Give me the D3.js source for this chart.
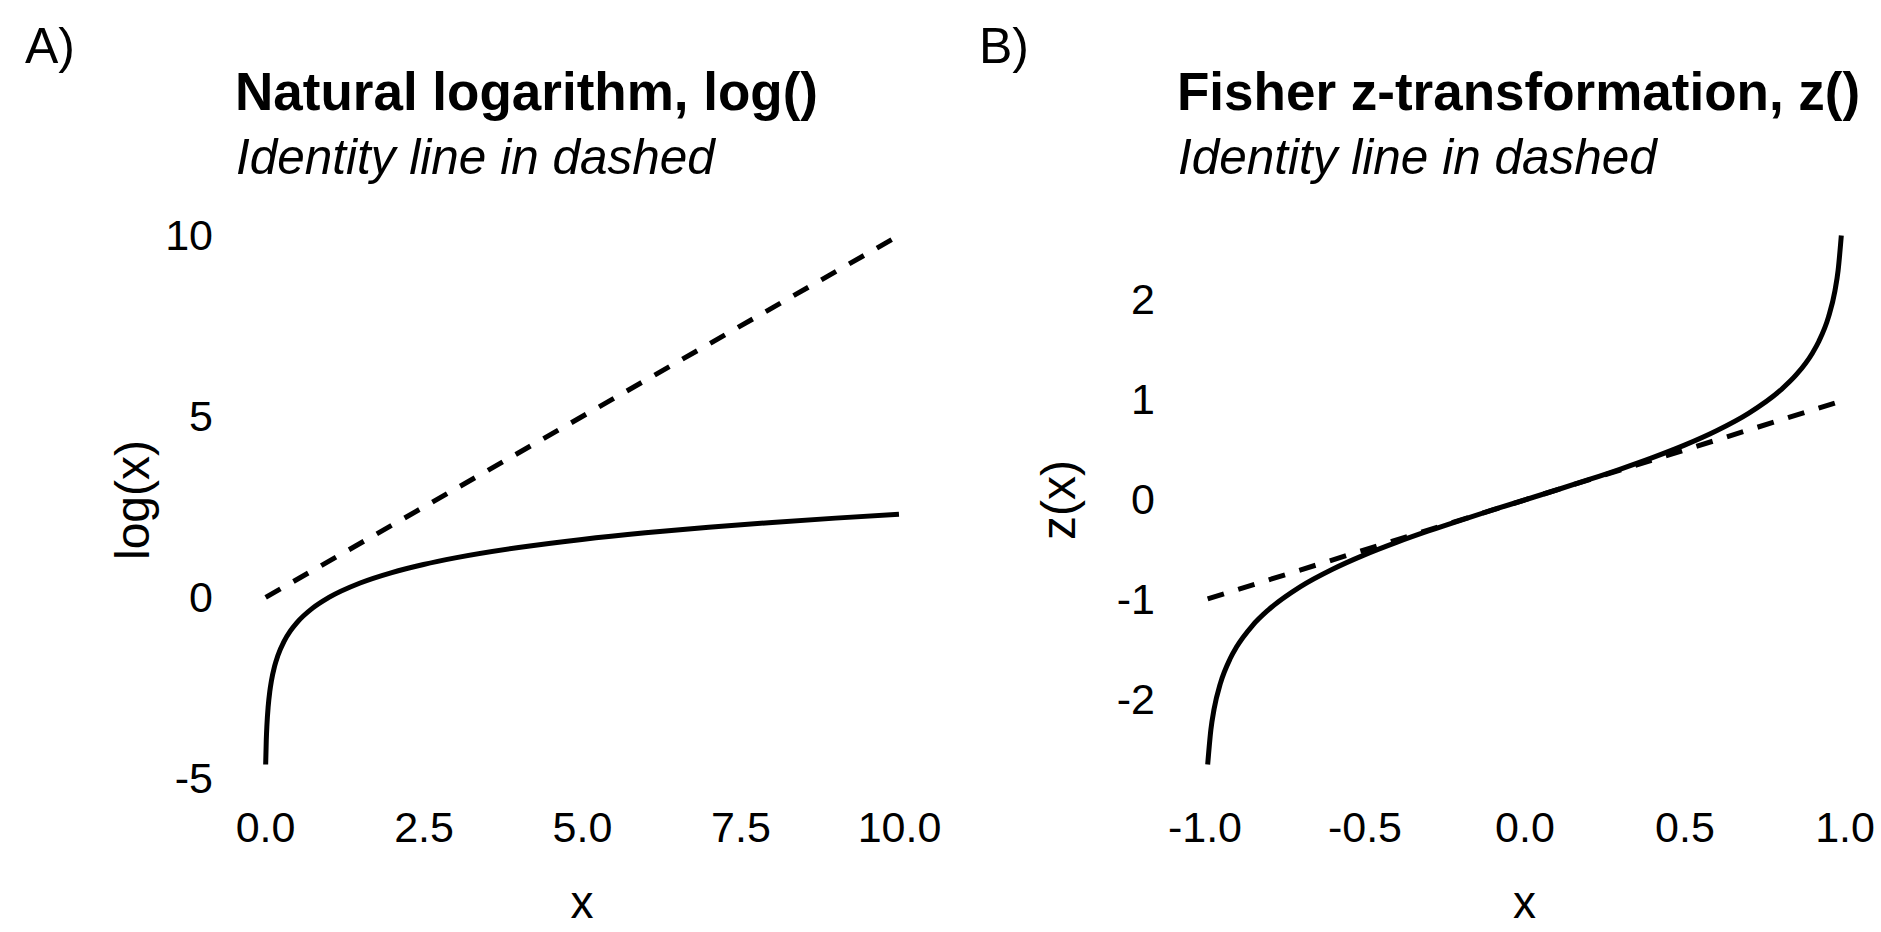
<!DOCTYPE html>
<html>
<head>
<meta charset="utf-8">
<script src="https://cdn.jsdelivr.net/npm/d3@7"></script>
<style>
  html, body { margin: 0; padding: 0; background: #ffffff; }
  svg { display: block; }
  text { font-family: "Liberation Sans", Arial, Helvetica, sans-serif; fill: #000; }
</style>
</head>
<body>
<svg id="chart" width="1881" height="932"></svg>
<script>
// ---------- Data ----------
// Panel A: natural logarithm
const logX = [0.01, 0.02, 0.03, 0.05, 0.075, 0.1, 0.15, 0.2, 0.3, 0.4, 0.5, 0.75, 1, 1.5, 2, 2.5, 3, 4, 5, 6, 7, 8, 9, 10];
const logY = [-4.605, -3.912, -3.507, -2.996, -2.590, -2.303, -1.897, -1.609, -1.204, -0.916, -0.693, -0.288, 0, 0.405, 0.693, 0.916, 1.099, 1.386, 1.609, 1.792, 1.946, 2.079, 2.197, 2.303];
const logIdentX = [0.01, 10];
const logIdentY = [0.01, 10];
const logXTicks = [0, 2.5, 5, 7.5, 10];
const logXTickLabels = ["0.0", "2.5", "5.0", "7.5", "10.0"];
const logYTicks = [-5, 0, 5, 10];
const logYTickLabels = ["-5", "0", "5", "10"];

// Panel B: Fisher z-transformation
const fzX = [-0.99, -0.98, -0.97, -0.95, -0.92, -0.9, -0.85, -0.8, -0.7, -0.6, -0.5, -0.4, -0.3, -0.2, -0.1, 0, 0.1, 0.2, 0.3, 0.4, 0.5, 0.6, 0.7, 0.8, 0.85, 0.9, 0.92, 0.95, 0.97, 0.98, 0.99];
const fzY = [-2.647, -2.298, -2.092, -1.832, -1.589, -1.472, -1.256, -1.099, -0.867, -0.693, -0.549, -0.424, -0.310, -0.203, -0.100, 0, 0.100, 0.203, 0.310, 0.424, 0.549, 0.693, 0.867, 1.099, 1.256, 1.472, 1.589, 1.832, 2.092, 2.298, 2.647];
const fzIdentX = [-0.99, 0.99];
const fzIdentY = [-0.99, 0.99];
const fzXTicks = [-1, -0.5, 0, 0.5, 1];
const fzXTickLabels = ["-1.0", "-0.5", "0.0", "0.5", "1.0"];
const fzYTicks = [-2, -1, 0, 1, 2];
const fzYTickLabels = ["-2", "-1", "0", "1", "2"];

const panels = [
  { tag: "A)", title: "Natural logarithm, log()", subtitle: "Identity line in dashed",
    ylab: "log(x)", xlab: "x",
    x: logX, y: logY, ix: logIdentX, iy: logIdentY,
    xt: logXTicks, xtl: logXTickLabels, yt: logYTicks, ytl: logYTickLabels,
    xdom: [-0.4895, 10.4895], ydom: [-5.3355, 10.7303],
    left: 234, right: 930, tagX: 25, ylabX: 132 },
  { tag: "B)", title: "Fisher z-transformation, z()", subtitle: "Identity line in dashed",
    ylab: "z(x)", xlab: "x",
    x: fzX, y: fzY, ix: fzIdentX, iy: fzIdentY,
    xt: fzXTicks, xtl: fzXTickLabels, yt: fzYTicks, ytl: fzYTickLabels,
    xdom: [-1.089, 1.089], ydom: [-2.912, 2.912],
    left: 1176, right: 1873, tagX: 979, ylabX: 1058 }
];

const panelTop = 209, panelBottom = 791;
const svg = d3.select("#chart");
svg.append("rect").attr("width", 1881).attr("height", 932).attr("fill", "#fff");

panels.forEach(p => {
  const xs = d3.scaleLinear().domain(p.xdom).range([p.left, p.right]);
  const ys = d3.scaleLinear().domain(p.ydom).range([panelBottom, panelTop]);
  const g = svg.append("g");

  g.append("text").attr("x", p.tagX).attr("y", 63)
    .attr("font-size", 50).text(p.tag);
  g.append("text").attr("x", p.left + 1).attr("y", 110)
    .attr("font-size", 53).attr("font-weight", "bold").text(p.title);
  g.append("text").attr("x", p.left + 2).attr("y", 174)
    .attr("font-size", 49.5).attr("font-style", "italic").text(p.subtitle);

  const xAxis = d3.axisBottom(xs).tickValues(p.xt).tickSize(0).tickPadding(20)
    .tickFormat((d, i) => p.xtl[i]);
  const yAxis = d3.axisLeft(ys).tickValues(p.yt).tickSize(0).tickPadding(21)
    .tickFormat((d, i) => p.ytl[i]);
  const gx = g.append("g").attr("transform", `translate(0,${panelBottom})`).call(xAxis);
  const gy = g.append("g").attr("transform", `translate(${p.left},0)`).call(yAxis);
  [gx, gy].forEach(a => {
    a.select(".domain").remove();
    a.selectAll("text").attr("font-size", 43).attr("fill", "#000")
      .attr("font-family", "'Liberation Sans', Arial, Helvetica, sans-serif");
  });

  g.append("text").attr("x", (p.left + p.right) / 2).attr("y", 918)
    .attr("text-anchor", "middle").attr("font-size", 46).text(p.xlab);
  g.append("text")
    .attr("transform", `translate(${p.ylabX},${(panelTop + panelBottom) / 2}) rotate(-90)`)
    .attr("text-anchor", "middle").attr("dy", "0.35em")
    .attr("font-size", 48).text(p.ylab);

  const idData = p.ix.map((v, i) => [v, p.iy[i]]);
  g.append("path").datum(idData)
    .attr("d", d3.line().x(d => xs(d[0])).y(d => ys(d[1])))
    .attr("fill", "none").attr("stroke", "#000").attr("stroke-width", 5)
    .attr("stroke-dasharray", "17,15");

  const data = p.x.map((v, i) => [v, p.y[i]]);
  g.append("path").datum(data)
    .attr("d", d3.line().curve(d3.curveMonotoneX).x(d => xs(d[0])).y(d => ys(d[1])))
    .attr("fill", "none").attr("stroke", "#000").attr("stroke-width", 5)
    .attr("stroke-linejoin", "round").attr("stroke-linecap", "butt");
});
</script>
</body>
</html>
